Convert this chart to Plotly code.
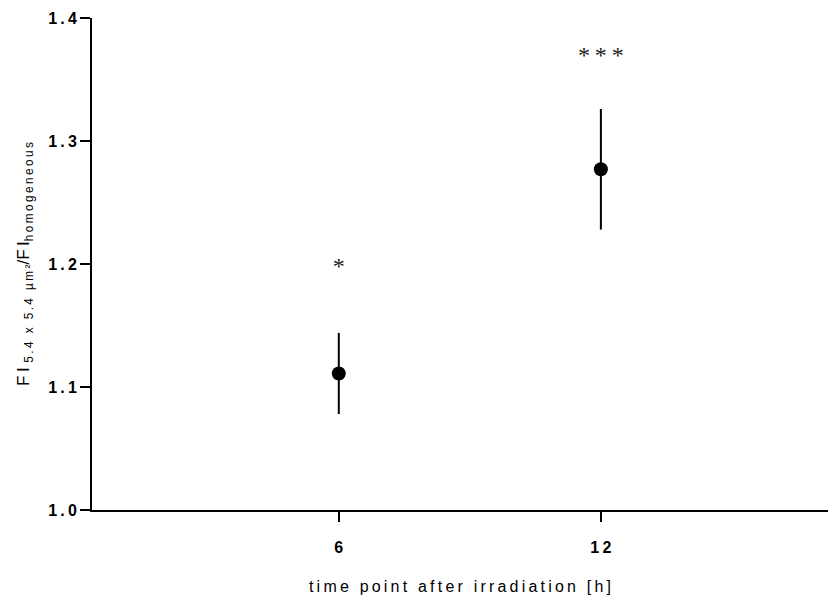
import plotly.graph_objects as go

# time points after irradiation (h) and fluorescence intensity ratios
time_h = [6, 12]
ratio_mean = [1.111, 1.277]
ratio_err = [0.033, 0.049]
significance = ["*", "***"]
sig_y = [1.197, 1.368]

y_ticks = [1.0, 1.1, 1.2, 1.3, 1.4]
x_ticks = [6, 12]


def tracked(s):
    """Loosely letter-spaced text (thin spaces between characters)."""
    return "\u2009".join(s)


x_tick_text = [tracked(str(v)) for v in x_ticks]
y_tick_text = [tracked(f"{v:.1f}") for v in y_ticks]

x_title = tracked("time point after irradiation [h]")
y_title = (tracked("FI") + " <sub>" + tracked("5.4 x 5.4 µm²") + "</sub>/"
           + tracked("FI") + "<sub>" + tracked("homogeneous") + "</sub>")

fig = go.Figure()

fig.add_trace(go.Scatter(
    x=time_h, y=ratio_mean, mode="markers",
    marker=dict(color="black", size=14),
    error_y=dict(type="data", array=ratio_err, visible=True,
                 color="black", thickness=2, width=0),
    showlegend=False,
))

fig.add_trace(go.Scatter(
    x=time_h, y=sig_y, mode="text",
    text=[tracked(s) for s in significance],
    textfont=dict(family="Liberation Serif", size=24, color="#222"),
    showlegend=False, hoverinfo="skip",
))

fig.update_layout(
    width=828, height=606,
    margin=dict(l=92, r=0, t=18, b=96),
    plot_bgcolor="white", paper_bgcolor="white",
    font=dict(family="Liberation Sans", color="black"),
    xaxis=dict(
        range=[0.35, 17.2], tickvals=x_ticks, ticktext=x_tick_text,
        showline=True, linecolor="black", linewidth=2,
        ticks="outside", ticklen=10, tickwidth=2, tickcolor="black",
        ticklabelstandoff=12,
        tickfont=dict(size=16, family="Liberation Sans", weight="bold"),
        showgrid=False, zeroline=False,
        title=dict(text=x_title, font=dict(size=16), standoff=26),
    ),
    yaxis=dict(
        range=[1.0, 1.4], tickvals=y_ticks, ticktext=y_tick_text,
        showline=True, linecolor="black", linewidth=2,
        ticks="outside", ticklen=10, tickwidth=2, tickcolor="black",
        tickfont=dict(size=16, family="Liberation Sans", weight="bold"),
        showgrid=False, zeroline=False,
        title=dict(text=y_title, font=dict(size=17), standoff=14),
    ),
)

# x axis line extends slightly past the y axis on the left
fig.add_shape(type="line", xref="paper", yref="paper",
              x0=-0.008, x1=0, y0=0, y1=0,
              line=dict(color="black", width=2))

fig.write_html("out.html")
